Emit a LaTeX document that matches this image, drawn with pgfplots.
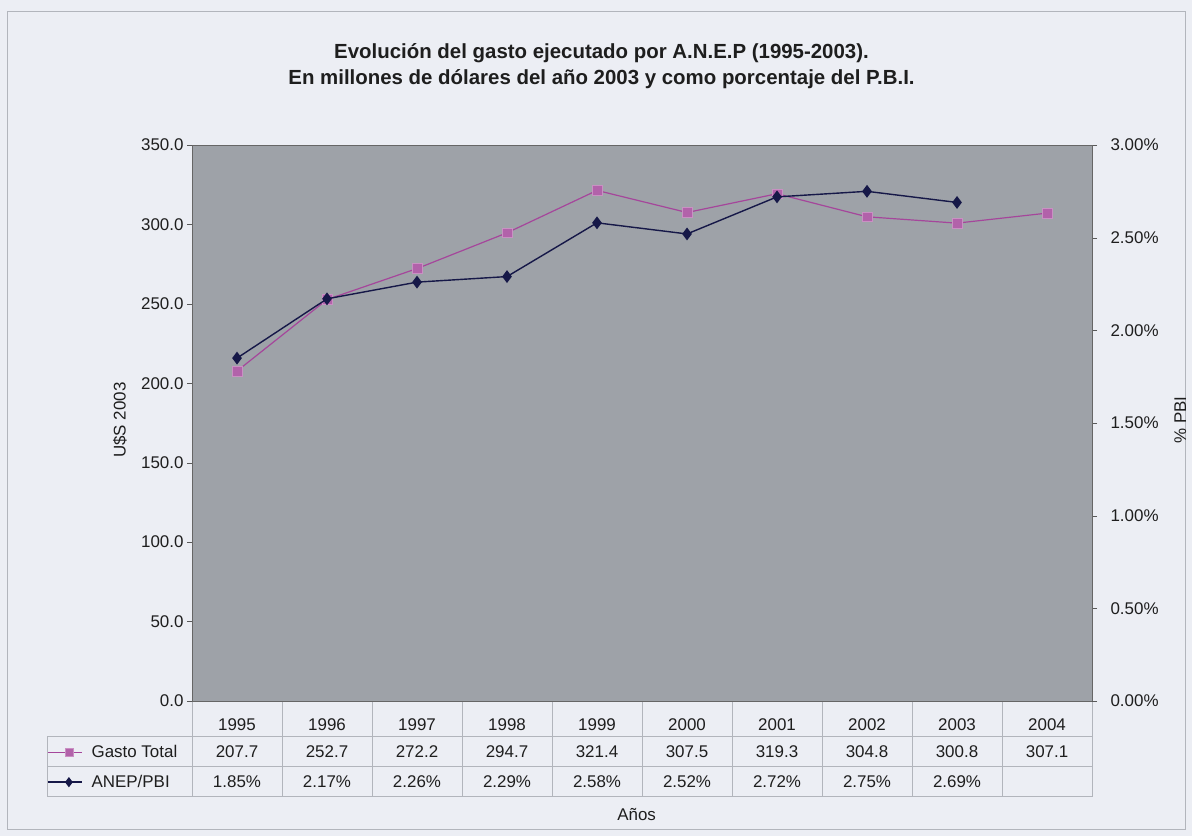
\documentclass[border=0pt]{standalone}
\usepackage{fontspec}
\setmainfont{Liberation Sans}
\usepackage{pgfplots}
\pgfplotsset{compat=1.18}
\usepackage{pgfplotstable}

\definecolor{pagebg}{RGB}{236,238,244}
\definecolor{plotbg}{RGB}{158,162,168}
\definecolor{gastoc}{RGB}{165,70,155}
\definecolor{pbic}{RGB}{22,24,72}
\definecolor{gridc}{RGB}{178,181,188}
\definecolor{txt}{RGB}{30,30,30}

\newcommand\tf{\fontsize{17}{20}\selectfont}

% Gasto total, millones de US$ de 2003
\pgfplotstableread{
x anio gasto
0 1995 207.7
1 1996 252.7
2 1997 272.2
3 1998 294.7
4 1999 321.4
5 2000 307.5
6 2001 319.3
7 2002 304.8
8 2003 300.8
9 2004 307.1
}\gasto

% ANEP / PBI, en %
\pgfplotstableread{
x pbi
0 1.85
1 2.17
2 2.26
3 2.29
4 2.58
5 2.52
6 2.72
7 2.75
8 2.69
}\pbi

\pgfplotsset{
  gastostyle/.style={color=gastoc, line width=1.2bp, mark=square*, mark size=4.8bp,
    mark options={fill=gastoc!85!white, draw=gastoc!60!white, line width=0.6bp}},
  pbistyle/.style={color=pbic, line width=1.4bp, mark=diamond*, mark size=5.3bp,
    mark options={fill=pbic}},
  base/.style={at={(192bp,135bp)}, anchor=south west, scale only axis,
    width=900bp, height=556bp, xmin=-0.5, xmax=9.5, clip=false,
    tick label style={font=\tf, color=txt}, label style={font=\tf, color=txt},
    /pgf/number format/assume math mode=true,
    tick align=outside, major tick length=5bp, tick style={gray!70!black}},
}

\begin{document}
\begin{tikzpicture}[x=1bp,y=1bp]
\fill[pagebg] (0,0) rectangle (1192,836);
\draw[gridc, line width=1bp] (7,6) rectangle (1185,824);
\path[use as bounding box] (0,0) rectangle (1192,836);

% rejilla de la tabla de datos
\foreach \yy in {99,69,39} \draw[gridc, line width=1bp] (47,\yy) -- (1092,\yy);
\draw[gridc, line width=1bp] (47,99) -- (47,39);
\foreach \i in {0,...,10} \draw[gridc, line width=1bp] (192+90*\i,135) -- (192+90*\i,39);

\begin{axis}[base,
  axis background/.style={fill=plotbg},
  axis line style={gray!80!black},
  ymin=0, ymax=350, ytick={0,50,...,350}, ytick pos=left,
  yticklabel={\pgfmathprintnumber[fixed,fixed zerofill,precision=1]{\tick}},
  xtick={0,...,9}, xticklabels from table={\gasto}{anio},
  x tick style={draw=none},
  xticklabel style={anchor=center, yshift=-19bp},
  ylabel={U\$S 2003},
  ylabel style={at={(axis description cs:-0.08,0.505)}, anchor=center},
  xlabel={Años},
  xlabel style={at={(axis description cs:0.494,-0.205)}, anchor=center},
  title={Evolución del gasto ejecutado por A.N.E.P (1995-2003).\\En millones de dólares del año 2003 y como porcentaje del P.B.I.},
  title style={at={(axis description cs:0.455,1.131)}, anchor=center, align=center,
    font=\fontsize{20.5}{27}\selectfont\bfseries, color=txt},
  legend style={at={(axis description cs:-0.1611,-0.0647)}, anchor=north west,
    draw=none, fill=none, font=\tf, inner sep=0pt, row sep=0pt, column sep=6bp,
    nodes={minimum height=30bp, inner ysep=0pt, inner xsep=3bp, text=txt}},
  legend cell align=left,
  legend image code/.code={\path (0bp,0bp) -- (34bp,0bp);
    \draw[#1, mark=none] (8bp,0bp) -- (34bp,0bp);
    \draw[#1, only marks, mark size=4bp] plot coordinates {(21bp,0bp)};},
]
\addplot[gastostyle] table[x=x, y=gasto]{\gasto};
\addlegendentry{Gasto Total}
\addlegendimage{pbistyle}
\addlegendentry{ANEP/PBI}

% filas de la tabla de datos
\addplot[forget plot, draw=none, mark=none, point meta=explicit,
  nodes near coords={\pgfmathprintnumber[fixed,fixed zerofill,precision=1]{\pgfplotspointmeta}},
  every node near coord/.style={anchor=center, font=\tf, text=txt}]
  table[x=x, y expr=-32.1, meta=gasto]{\gasto};
\addplot[forget plot, draw=none, mark=none, point meta=explicit,
  nodes near coords={\pgfmathprintnumber[fixed,fixed zerofill,precision=2]{\pgfplotspointmeta}\%},
  every node near coord/.style={anchor=center, font=\tf, text=txt}]
  table[x=x, y expr=-51.0, meta=pbi]{\pbi};
\end{axis}

\begin{axis}[base,
  axis x line=none, axis y line*=right,
  axis line style={gray!80!black},
  ymin=0, ymax=3, ytick={0,0.5,...,3},
  yticklabel={\pgfmathprintnumber[fixed,fixed zerofill,precision=2]{\tick}\%},
  yticklabel style={anchor=west, xshift=10bp},
  ylabel={\% PBI},
  ylabel style={at={(axis description cs:1.098,0.505)}, anchor=center},
]
\addplot[pbistyle] table[x=x, y=pbi]{\pbi};
\end{axis}
\end{tikzpicture}
\end{document}
